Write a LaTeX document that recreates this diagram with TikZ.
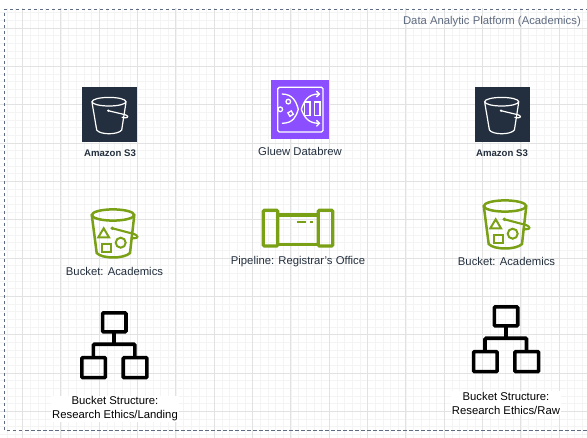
\documentclass[tikz,border=0pt]{standalone}
\usepackage{fontspec}
\setmainfont{Liberation Sans}
\usetikzlibrary{arrows.meta}

\definecolor{gridminor}{HTML}{F4F4F4}
\definecolor{gridmajor}{HTML}{E2E2E2}
\definecolor{squid}{HTML}{232F3E}
\definecolor{brewpurple}{HTML}{8C4FFF}
\definecolor{s3green}{HTML}{7AA116}
\definecolor{frameblue}{HTML}{5F6B80}

\tikzset{
    caption/.style={font=\fontsize{11.3}{14}\selectfont, text=squid, align=center, inner sep=0pt},
    blackcaption/.style={caption, text=black, fill=white, inner xsep=1pt, inner ysep=1pt},
    boldcaption/.style={font=\fontsize{9.6}{12}\selectfont\bfseries, text=squid, inner sep=0pt},
    % Dark S3 tile, origin at its top left corner
    pics/s3tile/.style={code={
        \fill[squid] (0,0) rectangle (55.3,55.3);
        \begin{scope}[draw=white, line width=1.2pt]
            \draw (27,14.7) ellipse (17 and 4.3);
            \draw (10,15.3) -- (14.7,43) .. controls (18,48) and (36,48) .. (39.7,43) -- (44,15.3);
            \draw (26.3,23.7) -- (43,27.7) .. controls (46.5,28.6) and (46.5,30.8) .. (43.5,30.8) .. controls (42,30.8) and (40.5,30.5) .. (39.8,30.2);
            \fill[white] (26.3,23.7) circle (1.3);
        \end{scope}
    }},
    % Green bucket with the three small shapes
    pics/greenbucket/.style={code={
        \begin{scope}[draw=s3green, line width=2.5pt]
            \draw (23,7) ellipse (21.2 and 5.6);
            \draw (1.9,8) -- (6.7,45) .. controls (12,51) and (34,51) .. (40,45) -- (44.2,8);
            \draw[line width=2.1pt] (22.3,20.3) -- (44,26) .. controls (48.5,27.5) and (48.5,30.5) .. (44,30.3) .. controls (42.5,30.2) and (41.5,30) .. (40.7,29.5);
            \fill[s3green] (22.3,20.3) circle (1.9);
            \draw[line width=2pt] (8.3,29.3) -- (19,29.3) -- (13.7,20.3) -- cycle;
            \draw[line width=2pt] (12.3,36) rectangle (21,43.7);
            \draw[line width=2pt] (30.7,34.7) circle (5);
        \end{scope}
    }},
    % Three boxes joined like a tree
    pics/treeicon/.style={code={
        \begin{scope}[draw=black, line width=3.6pt, rounded corners=1pt]
            \draw (22.3,1.6) rectangle (45.7,20.6);
            \draw (1.6,46.3) rectangle (25.1,66.4);
            \draw (42.9,46.3) rectangle (66.6,66.4);
            \draw (33.7,20.6) -- (33.7,33);
            \draw (13,46.3) -- (13,33) -- (54.5,33) -- (54.5,46.3);
        \end{scope}
    }}
}

\begin{document}
\begin{tikzpicture}[x=1pt, y=-1pt]

    % Page frame
    \useasboundingbox (0,0) rectangle (587,438);

    % Canvas grid
    \fill[white] (0,0) rectangle (587,438);
    \draw[gridminor, line width=0.8pt, xstep=7.667pt, ystep=7.667pt, shift={(22.6pt,-28.2pt)}] (-30,-20) grid (570,470);
    \draw[gridmajor, line width=1pt, xstep=38.33pt, ystep=38.33pt, shift={(22.6pt,-28.2pt)}] (-30,-20) grid (570,470);

    % Dashed platform frame, open past the right side
    \draw[frameblue, line width=0.9pt, dash pattern=on 3.5pt off 2.5pt] (595,9.5) -- (4.5,9.5) -- (4.5,430.5) -- (595,430.5);
    \node[caption, text=frameblue, anchor=east] (platformtitle) at (581,22) {Data Analytic Platform (Academics)};

    % Top row
    \pic at (82,87) {s3tile};
    \node[boldcaption] (s3left) at (110,153) {Amazon S3};
    \pic at (474.7,87) {s3tile};
    \node[boldcaption] (s3right) at (502,153) {Amazon S3};

    % Databrew tile
    \begin{scope}[shift={(271.3pt,-80.3pt)}]
        \fill[brewpurple] (0,0) rectangle (58,58.3);
        \begin{scope}[draw=white, line width=1.3pt]
            \draw[rounded corners=1.5pt] (6.5,7) rectangle (51.7,51.7);
            \draw (10.5,13.7) .. controls (22,13.7) and (25,22) .. (27,29) .. controls (25,36) and (22,43) .. (10.5,43);
            \draw[-{Straight Barb[length=3pt,width=6pt]}] (30,29) .. controls (33,20) and (37,13.7) .. (49,13.7);
            \draw[-{Straight Barb[length=3pt,width=6pt]}] (30,29) .. controls (33,37) and (37,43) .. (49,43);
            \draw (33.3,21.7) rectangle (38.7,35);
            \draw (43,21.7) rectangle (48.7,35);
            \draw (17,21.3) circle (2.3);
            \draw (9,29) circle (2.3);
            \draw[rotate around={30:(19.3,33.3)}] (17.3,31.3) rectangle (21.3,35.3);
        \end{scope}
    \end{scope}
    \node[caption] (brewlabel) at (300,151.5) {Gluew Databrew};

    % Middle row
    \pic at (90,208) {greenbucket};
    \node[caption] (bucketleft) at (114.5,271.5) {Bucket: Academics};
    \pic at (482,199) {greenbucket};
    \node[caption] (bucketright) at (506.5,261.5) {Bucket: Academics};

    % Pipeline icon
    \begin{scope}[shift={(263.3pt,-210.3pt)}, draw=s3green, line width=3.2pt, rounded corners=1pt]
        \draw (0,0) rectangle (14.4,35.7);
        \draw (55,0) rectangle (69.4,35.7);
        \draw (14.4,4.7) -- (55,4.7);
        \draw (14.4,34) -- (55,34);
        \draw[line width=2.3pt, rounded corners=0pt] (33.3,11.4) -- (42.7,11.4);
        \draw[line width=2.3pt, rounded corners=0pt] (46.7,11.4) -- (49.4,11.4);
    \end{scope}
    \node[caption] (pipelinelabel) at (298,261.5) {Pipeline: Registrar's Office};

    % Bottom row
    \pic at (80.3,311.3) {treeicon};
    \node[blackcaption] (structleft) at (115,409) {Bucket Structure:\\Research Ethics/Landing};
    \pic at (472,305.3) {treeicon};
    \node[blackcaption] (structright) at (506,403) {Bucket Structure:\\Research Ethics/Raw};

\end{tikzpicture}
\end{document}
